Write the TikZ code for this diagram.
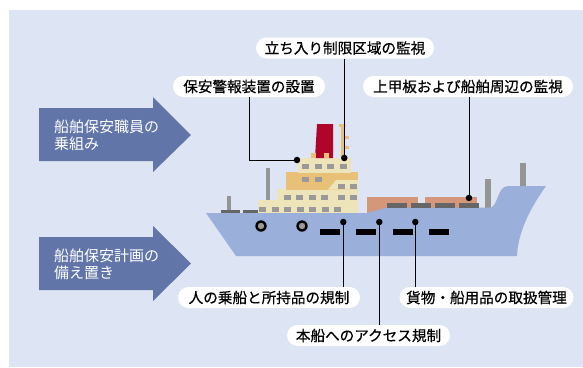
\documentclass[tikz,border=0pt]{standalone}
\usepackage{fontspec}
\newfontfamily\jp{Noto Sans CJK JP}
\newfontfamily\jpheavy[FakeBold=0.6]{Noto Sans CJK JP}
\definecolor{bgblue}{HTML}{DDE4F3}
\definecolor{arrowblue}{HTML}{6175A9}
\definecolor{hullblue}{HTML}{9AAFDA}
\definecolor{cream}{HTML}{EDE4BA}
\definecolor{deckorange}{HTML}{E8C077}
\definecolor{funnelred}{HTML}{B0052B}
\definecolor{cargo}{HTML}{D49779}
\definecolor{hatch}{HTML}{666666}
\definecolor{polegray}{HTML}{959595}
\definecolor{wingray}{HTML}{999999}
\tikzset{
  lbl/.style={fill=white, rounded corners=10.5pt, minimum height=21pt, inner sep=0pt,
    font=\jpheavy\fontsize{14.6}{17}\selectfont},
  arrowtxt/.style={anchor=west, align=left, text=white, inner sep=0pt,
    font=\jp\fontsize{15}{17}\selectfont},
  conn/.style={draw=black, line width=0.9pt},
  dotmark/.style={circle, fill=black, inner sep=0pt, minimum size=6.5pt},
  win/.style={fill=wingray},
}
\begin{document}
\begin{tikzpicture}[x=1pt,y=-1pt]
\useasboundingbox (0,0) rectangle (583,367);
\fill[white] (0,0) rectangle (583,367);
\fill[bgblue] (9,10) rectangle (583,367);

% block arrows on the left
\fill[arrowblue] (39,108) -- (153,108) -- (153,97) -- (191,135) -- (153,172) -- (153,161) -- (39,161) -- cycle;
\fill[arrowblue] (39,237) -- (153,237) -- (153,226) -- (191,263.5) -- (153,301) -- (153,290) -- (39,290) -- cycle;
\node[arrowtxt] (a1) at (54,135.5) {船舶保安職員の\\乗組み};
\node[arrowtxt] (a2) at (54,264) {船舶保安計画の\\備え置き};

% poles behind the hull
\fill[polegray] (485,179) rectangle (491,208);
\fill[polegray] (520,163) rectangle (526,187);
\fill[polegray] (227,196) rectangle (231,211);
\fill[polegray] (266,168) rectangle (270,201);
\fill[hatch] (221,210) rectangle (240,213.5);
\fill[hatch] (243,210) rectangle (258,213.5);

% cargo
\fill[cargo] (367,197) rectangle (418,213);
\fill[cargo] (425,197) rectangle (477,208);

% hull
\fill[hullblue] (206,213) -- (367,213) -- (387,207.5) -- (490,207.5)
  .. controls (498,207.5) and (497,186) .. (508,186) -- (546,186)
  .. controls (526,214) and (518,236) .. (517,256) -- (236,256) -- cycle;

% hatch covers
\foreach \x in {387,411,435,459} \fill[hatch] (\x,203) rectangle (\x+20,207.5);

% superstructure
\fill[cream] (258,200) rectangle (358,213);
\fill[cream] (277,189) rectangle (358,200.5);
\fill[deckorange] (286,172) rectangle (358,189.5);
\fill[cream] (328,189.5) -- (336,180) -- (358,180) -- (358,189.5) -- cycle;
\fill[cream] (298,158) rectangle (351,172.5);

% windows
\foreach \x in {302,315,327,340} \fill[win] (\x,164) rectangle (\x+7,169);
\foreach \x in {302,315} \fill[win] (\x,177) rectangle (\x+7,182);
\foreach \x in {338,350} \fill[win] (\x,184) rectangle (\x+7,189);
\foreach \x in {284,296,309,321,338,350} \fill[win] (\x,195) rectangle (\x+7,200);
\foreach \x in {259,272,284,297,309,322,334} \fill[win] (\x,207) rectangle (\x+7,212);

% funnel and mast
\fill[funnelred] (317,124) -- (333,124) -- (333,158) -- (315,158) -- cycle;
\fill[deckorange] (311,153) rectangle (316,158);
\fill[deckorange] (324,153) rectangle (329,158);
\fill[deckorange] (341,124) rectangle (344.3,158);
\fill[deckorange] (339,124) rectangle (346,127);
\fill[deckorange] (344,136) rectangle (349,139.3);
\fill[deckorange] (344,146) rectangle (349,149.3);

% portholes
\foreach \x in {261,302} {
  \fill[black] (\x,226) circle (5.7);
  \fill[wingray] (\x,226) circle (3.2);
}

% hull windows
\foreach \x in {320,356,393,429} \fill[black] (\x,229) rectangle (\x+20,235);

% labels
\node[lbl, minimum width=178pt] (l1) at (345,48) {立ち入り制限区域の監視};
\node[lbl, minimum width=152pt] (l2) at (249,86.5) {保安警報装置の設置};
\node[lbl, minimum width=210pt] (l3) at (468,86.5) {上甲板および船舶周辺の監視};
\node[lbl, minimum width=182pt] (l4) at (269,297.5) {人の乗船と所持品の規制};
\node[lbl, minimum width=174pt] (l5) at (486.5,297.5) {貨物・船用品の取扱管理};
\node[lbl, minimum width=163pt] (l6) at (368.5,335.5) {本船へのアクセス規制};

% marker dots
\node[dotmark] (d1) at (344.3,158) {};
\node[dotmark] (d2) at (297,160) {};
\node[dotmark] (d3) at (469,198) {};
\node[dotmark] (d4) at (343.3,222) {};
\node[dotmark] (d5) at (379.3,222) {};
\node[dotmark] (d6) at (415.3,222) {};

% connectors
\draw[conn] (d1.center) -- (d1.center |- l1.south);
\draw[conn] (d2.center) -| (l2.south);
\draw[conn] (d3.center) -- (d3.center |- l3.south);
\draw[conn] (d4.center) -- (d4.center |- l4.north);
\draw[conn] (d5.center) -- (d5.center |- l6.north);
\draw[conn] (d6.center) -- (d6.center |- l5.north);
\end{tikzpicture}
\end{document}
